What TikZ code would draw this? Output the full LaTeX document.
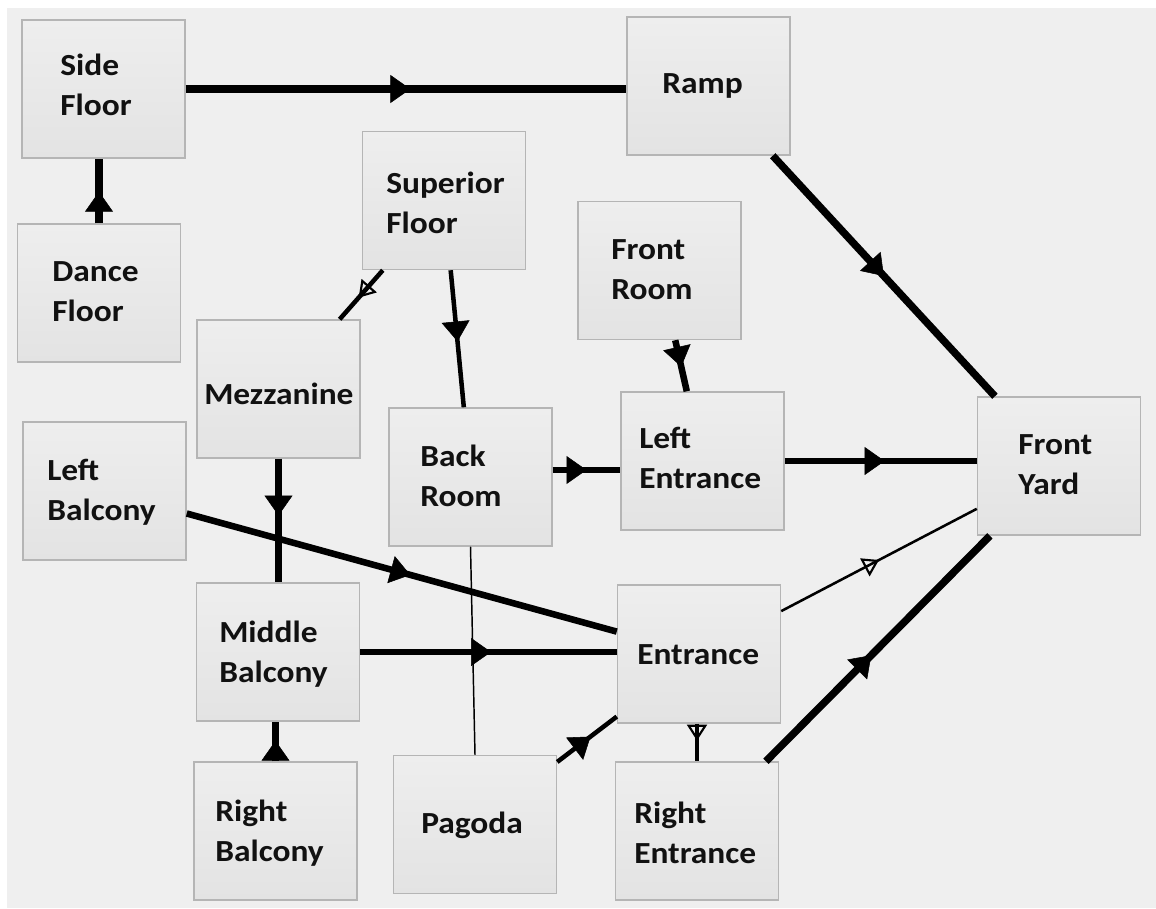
\documentclass[tikz,border=0pt]{standalone}
\usepackage{fontspec}
\setmainfont{Carlito}[FakeStretch=1.09]
\usetikzlibrary{arrows.meta,decorations.markings}
\definecolor{bg}{HTML}{EFEFEF}
\definecolor{boxline}{HTML}{B5B5B5}
\definecolor{boxtop}{HTML}{EEEEEE}
\definecolor{boxbot}{HTML}{E3E3E3}
\definecolor{ink}{HTML}{111111}
\tikzset{
  Ftip/.tip={Triangle[length=15pt,width=21pt,line width=0.4pt]},
  Otip/.tip={Triangle[open,length=12pt,width=15pt,line width=1.6pt]},
  fmid/.style={postaction={decorate},decoration={markings,mark=at position #1 with {\arrow{Ftip}}}},
  omid/.style={postaction={decorate},decoration={markings,mark=at position #1 with {\arrow{Otip}}}},
  box/.style={draw=boxline, line width=1.1pt, top color=boxtop, bottom color=boxbot,
    minimum width=122.25pt, minimum height=103.5pt, inner sep=0pt},
  lbl/.style={anchor=west, inner sep=0pt, align=left, text=ink,
    font=\fontsize{23}{30}\selectfont\bfseries},
  heavy/.style={line width=5.6pt, draw=black},
  strong/.style={line width=4.9pt, draw=black},
  medium/.style={line width=3.4pt, draw=black},
  light/.style={line width=1.9pt, draw=black},
  hair/.style={line width=1.1pt, draw=black},
}
\begin{document}
\begin{tikzpicture}[x=0.75pt,y=-0.75pt]
\useasboundingbox (0,0) rectangle (1156,908);
\fill[white] (0,0) rectangle (1156,908);
\fill[bg] (7,8) rectangle (1156,908);

% boxes
\node[box] (sf)   at (103.5,89)  {};
\node[box] (df)   at (99,293)    {};
\node[box] (ramp) at (708.5,86)  {};
\node[box] (sup)  at (444,200.5) {};
\node[box] (fr)   at (659.5,270.5) {};
\node[box] (mez)  at (278.5,389) {};
\node[box] (lb)   at (104.5,491) {};
\node[box] (br)   at (470.5,477) {};
\node[box] (le)   at (702.5,461) {};
\node[box] (fy)   at (1059,466)  {};
\node[box] (mb)   at (278,652)   {};
\node[box] (ent)  at (699,654)   {};
\node[box] (rb)   at (275.5,831) {};
\node[box] (pag)  at (475,824.5) {};
\node[box] (re)   at (697,831)   {};

% connectors
\draw[heavy, fmid=0.51] (sf.east) -- (sf.east -| ramp.west);
\draw[heavy, fmid=0.49] (df.north) -- (df.north |- sf.south);
\draw[heavy, fmid=0.5] (ramp) -- (fy);
\draw[medium, omid=0.56] (sup) -- (mez);
\draw[medium, fmid=0.52] (sup) -- (br);
\draw[strong, fmid=0.52] (fr) -- (le);
\draw[strong, fmid=0.5] ([yshift=5.25pt]br.east) -- ([yshift=5.25pt]br.east -| le.west);
\draw[strong, fmid=0.52] (le.east) -- (le.east -| fy.west);
\draw[strong, fmid=0.46] (mez.south) -- (mez.south |- mb.north);
\draw[strong, fmid=0.52] (lb) -- (ent);
\draw[strong, fmid=0.51] (mb.east) -- (mb.east -| ent.west);
\draw[hair] (br.south) -- (pag.north);
\draw[medium, fmid=0.56] (pag) -- (ent);
\draw[light, omid=0.5] (ent) -- (fy);
\draw[medium, omid=0.45] (re.north |- ent.south) -- (re.north);
\draw[heavy, fmid=0.52] (rb.north) -- (rb.north |- mb.south);
\draw[heavy, fmid=0.47] (re) -- (fy);

% labels
\node[lbl] (sft)   at (60,85)     {Side\\Floor};
\node[lbl] (dft)   at (52,292)    {Dance\\Floor};
\node[lbl] (rampt) at (662,86)    {Ramp};
\node[lbl] (supt)  at (386,203)   {Superior\\Floor};
\node[lbl] (frt)   at (611,270)   {Front\\Room};
\node[lbl] (mezt)  at (204,394)   {Mezzanine};
\node[lbl] (lbt)   at (47,492)    {Left\\Balcony};
\node[lbl] (brt)   at (420,476)   {Back\\Room};
\node[lbl] (let)   at (639,457.5) {Left\\Entrance};
\node[lbl] (fyt)   at (1018,464.5){Front\\Yard};
\node[lbl] (mbt)   at (219,654)   {Middle\\Balcony};
\node[lbl] (entt)  at (637,655)   {Entrance};
\node[lbl] (rbt)   at (215,833.5) {Right\\Balcony};
\node[lbl] (pagt)  at (421,825)   {Pagoda};
\node[lbl] (ret)   at (634,832.5) {Right\\Entrance};
\end{tikzpicture}
\end{document}
